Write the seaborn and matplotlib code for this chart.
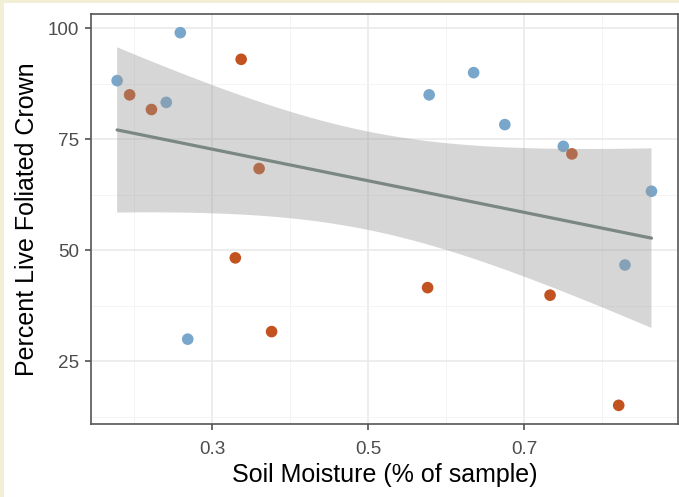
import numpy as np
import pandas as pd
import matplotlib
matplotlib.use("Agg")
import matplotlib.pyplot as plt
import seaborn as sns
from matplotlib.patches import Rectangle
from matplotlib.ticker import FixedLocator

# ---- data ----
blue_moisture = [0.178, 0.259, 0.241, 0.2685, 0.578, 0.635, 0.675, 0.750, 0.863, 0.829]
blue_crown = [88.2, 99.0, 83.3, 30.0, 85.0, 90.0, 78.3, 73.4, 63.3, 46.7]
orange_moisture = [0.194, 0.222, 0.337, 0.360, 0.761, 0.3295, 0.376, 0.576, 0.733, 0.821]
orange_crown = [85.0, 81.7, 93.0, 68.4, 71.7, 48.3, 31.7, 41.6, 39.9, 15.1]
groups = ["A", "B"]
x_ticks = [0.3, 0.5, 0.7]
y_ticks = [25, 50, 75, 100]

df = pd.DataFrame({
    "moisture": blue_moisture + orange_moisture,
    "crown": blue_crown + orange_crown,
    "group": [groups[0]] * len(blue_moisture) + [groups[1]] * len(orange_moisture),
})

sns.set_theme(style="white")
plt.rcParams["font.family"] = ["Liberation Sans", "DejaVu Sans"]

fig = plt.figure(figsize=(6.79, 4.97), dpi=100)
fig.patch.set_facecolor("white")
# cream frame strips (top / left)
fig.patches.append(Rectangle((0, 0), 1, 1, transform=fig.transFigure,
                             facecolor="#f3eed6", edgecolor="none", zorder=-10))
fig.patches.append(Rectangle((4 / 679, 0), 1, 1 - 3 / 497, transform=fig.transFigure,
                             facecolor="white", edgecolor="none", zorder=-9))

ax = fig.add_axes([91 / 679, 1 - 424 / 497, (678 - 91) / 679, (424 - 14) / 497])

palette = {"A": "#79a7cc", "B": "#c2521f"}
sns.scatterplot(data=df, x="moisture", y="crown", hue="group", palette=palette,
                s=70, edgecolor="none", linewidth=0, legend=False, ax=ax, zorder=2)

# 95% confidence band of the linear fit (analytic, as in a standard lm smooth)
x = df["moisture"].to_numpy()
y = df["crown"].to_numpy()
n = len(x)
slope, intercept = np.polyfit(x, y, 1)
resid = y - (slope * x + intercept)
s_err = np.sqrt(np.sum(resid ** 2) / (n - 2))
sxx = np.sum((x - x.mean()) ** 2)
t_crit = 2.100922  # t quantile 0.975, 18 df
grid_x = np.linspace(x.min(), x.max(), 80)
fit = slope * grid_x + intercept
half = t_crit * s_err * np.sqrt(1 / n + (grid_x - x.mean()) ** 2 / sxx)
ax.fill_between(grid_x, fit - half, fit + half, facecolor="#999999", alpha=0.4,
                edgecolor="none", zorder=3)

sns.regplot(data=df, x="moisture", y="crown", scatter=False, ci=None,
            color="#7b8783", line_kws={"linewidth": 2.3, "zorder": 4}, ax=ax)

ax.set_xlim(0.1445, 0.897)
ax.set_ylim(10.9, 103.2)
ax.xaxis.set_major_locator(FixedLocator(x_ticks))
ax.yaxis.set_major_locator(FixedLocator(y_ticks))
ax.xaxis.set_minor_locator(FixedLocator([0.2, 0.4, 0.6, 0.8]))
ax.yaxis.set_minor_locator(FixedLocator([12.5, 37.5, 62.5, 87.5]))
ax.set_xticklabels([str(v) for v in x_ticks])
ax.set_yticklabels([str(v) for v in y_ticks])
ax.grid(which="major", color="#e8e8e8", linewidth=1.1, zorder=0)
ax.grid(which="minor", color="#f2f2f2", linewidth=0.6, zorder=0)
ax.set_axisbelow(True)
for sp in ax.spines.values():
    sp.set_color("#555555")
    sp.set_linewidth(1.2)
    sp.set_visible(True)
ax.tick_params(which="major", direction="out", length=4, width=1.1, color="#444444",
               labelsize=13.6, labelcolor="#4d4d4d", bottom=True, left=True)
ax.tick_params(axis="x", which="major", pad=8)
ax.tick_params(axis="y", which="major", pad=4.5)
ax.tick_params(which="minor", length=0)
ax.set_xlabel("Soil Moisture (% of sample)", fontsize=18, color="black", labelpad=3.5)
ax.set_ylabel("Percent Live Foliated Crown", fontsize=18, color="black", labelpad=6)

fig.savefig("out.png", dpi=100, facecolor=fig.get_facecolor())
